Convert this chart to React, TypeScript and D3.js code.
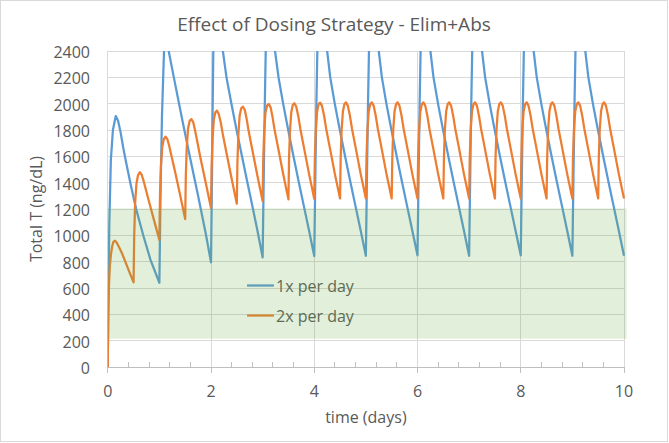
import * as d3 from 'd3';
import { useLayoutEffect, useRef } from 'react';

const title = 'Effect of Dosing Strategy - Elim+Abs';
const xLabel = 'time (days)';
const yLabel = 'Total T (ng/dL)';
const seriesNames = ['1x per day', '2x per day'];
const seriesColors = ['#5b9bd5', '#ed7d31'];

const xTicks = [0, 2, 4, 6, 8, 10];
const xMinorTicks = [0.4, 0.8, 1.2, 1.6, 2.4, 2.8, 3.2, 3.6, 4.4, 4.8, 5.2, 5.6, 6.4, 6.8, 7.2, 7.6, 8.4, 8.8, 9.2, 9.6];
const yTicks = [0, 200, 400, 600, 800, 1000, 1200, 1400, 1600, 1800, 2000, 2200, 2400];

// shaded target range (ng/dL) and its extent in days
const targetRange = [215, 1205];
const targetDays = [0, 10.05];

// [day, ng/dL]
const onceDaily: [number, number][] = [
  [0, 0], [0.01, 480], [0.03, 1080], [0.06, 1570], [0.1, 1800], [0.155, 1906], [0.2, 1870], [0.25, 1780],
  [0.3, 1665], [0.35, 1565], [0.45, 1375], [0.55, 1200], [0.69, 997], [0.83, 812], [1, 640],
  [1.02, 1250], [1.05, 1900], [1.09, 2400], [1.13, 2480], [1.15, 2475], [1.18, 2400], [1.3, 2160],
  [1.45, 1865], [1.6, 1580], [1.75, 1300], [1.9, 1010], [2, 795],
  [2.015, 1300], [2.03, 1900], [2.045, 2400], [2.08, 2640], [2.12, 2700], [2.17, 2620], [2.23, 2400],
  [2.3, 2200], [2.4, 1990], [2.5, 1790], [2.6, 1600], [2.7, 1410], [2.8, 1225], [2.9, 1035], [3, 833],
  [3.02, 1400], [3.04, 1950], [3.06, 2400], [3.1, 2660], [3.14, 2730], [3.19, 2640], [3.24, 2400],
  [3.31, 2195], [3.4, 1995], [3.5, 1790], [3.6, 1595], [3.7, 1405], [3.8, 1220], [3.9, 1035], [4, 843],
  [4.02, 1420], [4.04, 1970], [4.06, 2400], [4.1, 2680], [4.14, 2750], [4.19, 2660], [4.25, 2400],
  [4.31, 2200], [4.4, 1995], [4.5, 1790], [4.6, 1595], [4.7, 1405], [4.8, 1220], [4.9, 1035], [5, 845],
  [5.02, 1420], [5.04, 1970], [5.06, 2400], [5.1, 2680], [5.14, 2750], [5.19, 2660], [5.25, 2400],
  [5.31, 2200], [5.4, 1995], [5.5, 1790], [5.6, 1595], [5.7, 1405], [5.8, 1220], [5.9, 1035], [6, 848],
  [6.02, 1420], [6.04, 1970], [6.06, 2400], [6.1, 2680], [6.14, 2750], [6.19, 2660], [6.25, 2400],
  [6.31, 2200], [6.4, 1995], [6.5, 1790], [6.6, 1595], [6.7, 1405], [6.8, 1220], [6.9, 1035], [7, 845],
  [7.02, 1420], [7.04, 1970], [7.06, 2400], [7.1, 2680], [7.14, 2750], [7.19, 2660], [7.25, 2400],
  [7.31, 2200], [7.4, 1995], [7.5, 1790], [7.6, 1595], [7.7, 1405], [7.8, 1220], [7.9, 1035], [8, 848],
  [8.02, 1420], [8.04, 1970], [8.06, 2400], [8.1, 2680], [8.14, 2750], [8.19, 2660], [8.25, 2400],
  [8.31, 2200], [8.4, 1995], [8.5, 1790], [8.6, 1595], [8.7, 1405], [8.8, 1220], [8.9, 1035], [9, 845],
  [9.02, 1420], [9.04, 1970], [9.06, 2400], [9.1, 2680], [9.14, 2750], [9.19, 2660], [9.25, 2400],
  [9.31, 2200], [9.4, 1995], [9.5, 1790], [9.6, 1595], [9.7, 1405], [9.8, 1220], [9.9, 1035], [10, 845],
];

const twiceDaily: [number, number][] = [
  [0, 0], [0.005, 200], [0.012, 420], [0.025, 636], [0.04, 760], [0.06, 850], [0.085, 915], [0.11, 950],
  [0.135, 959], [0.17, 948], [0.22, 910], [0.28, 860], [0.34, 800], [0.42, 720], [0.5, 643],
  [0.512, 990], [0.53, 1240], [0.555, 1390], [0.585, 1455], [0.62, 1479], [0.655, 1462], [0.69, 1420],
  [0.73, 1360], [0.8, 1255], [0.9, 1110], [1, 965],
  [1.012, 1300], [1.03, 1530], [1.055, 1670], [1.085, 1730], [1.12, 1749], [1.155, 1730], [1.19, 1680],
  [1.23, 1610], [1.3, 1490], [1.4, 1310], [1.5, 1124],
  [1.512, 1450], [1.53, 1665], [1.555, 1810], [1.585, 1868], [1.62, 1883], [1.655, 1860], [1.69, 1800],
  [1.73, 1720], [1.8, 1580], [1.9, 1395], [2, 1207],
  [2.012, 1525], [2.03, 1735], [2.055, 1880], [2.085, 1935], [2.115, 1947], [2.15, 1922], [2.19, 1855],
  [2.23, 1765], [2.3, 1625], [2.4, 1430], [2.5, 1240],
  [2.512, 1555], [2.53, 1765], [2.555, 1910], [2.585, 1965], [2.62, 1977], [2.655, 1952], [2.69, 1885],
  [2.73, 1790], [2.8, 1650], [2.9, 1450], [3, 1260],
  [3.012, 1575], [3.03, 1785], [3.055, 1930], [3.085, 1985], [3.12, 1997], [3.155, 1972], [3.19, 1903],
  [3.23, 1805], [3.3, 1665], [3.4, 1462], [3.5, 1273],
  [3.512, 1585], [3.53, 1795], [3.555, 1935], [3.585, 1992], [3.615, 2003], [3.65, 1978], [3.69, 1907],
  [3.73, 1810], [3.8, 1668], [3.9, 1465], [4, 1278],
  [4.012, 1590], [4.03, 1800], [4.055, 1940], [4.085, 1998], [4.115, 2008], [4.15, 1983], [4.19, 1910],
  [4.23, 1812], [4.3, 1670], [4.4, 1465], [4.5, 1280],
  [4.512, 1590], [4.53, 1800], [4.555, 1940], [4.585, 1998], [4.615, 2010], [4.65, 1985], [4.69, 1910],
  [4.73, 1812], [4.8, 1670], [4.9, 1465], [5, 1280],
  [5.012, 1590], [5.03, 1800], [5.055, 1940], [5.085, 1998], [5.115, 2010], [5.15, 1985], [5.19, 1910],
  [5.23, 1812], [5.3, 1670], [5.4, 1465], [5.5, 1280],
  [5.512, 1590], [5.53, 1800], [5.555, 1940], [5.585, 1998], [5.615, 2010], [5.65, 1985], [5.69, 1910],
  [5.73, 1812], [5.8, 1670], [5.9, 1465], [6, 1280],
  [6.012, 1590], [6.03, 1800], [6.055, 1940], [6.085, 1998], [6.115, 2010], [6.15, 1985], [6.19, 1910],
  [6.23, 1812], [6.3, 1670], [6.4, 1465], [6.5, 1280],
  [6.512, 1590], [6.53, 1800], [6.555, 1940], [6.585, 1998], [6.615, 2010], [6.65, 1985], [6.69, 1910],
  [6.73, 1812], [6.8, 1670], [6.9, 1465], [7, 1280],
  [7.012, 1590], [7.03, 1800], [7.055, 1940], [7.085, 1998], [7.115, 2010], [7.15, 1985], [7.19, 1910],
  [7.23, 1812], [7.3, 1670], [7.4, 1465], [7.5, 1280],
  [7.512, 1590], [7.53, 1800], [7.555, 1940], [7.585, 1998], [7.615, 2010], [7.65, 1985], [7.69, 1910],
  [7.73, 1812], [7.8, 1670], [7.9, 1465], [8, 1280],
  [8.012, 1590], [8.03, 1800], [8.055, 1940], [8.085, 1998], [8.115, 2010], [8.15, 1985], [8.19, 1910],
  [8.23, 1812], [8.3, 1670], [8.4, 1465], [8.5, 1280],
  [8.512, 1590], [8.53, 1800], [8.555, 1940], [8.585, 1998], [8.615, 2010], [8.65, 1985], [8.69, 1910],
  [8.73, 1812], [8.8, 1670], [8.9, 1465], [9, 1280],
  [9.012, 1590], [9.03, 1800], [9.055, 1940], [9.085, 1998], [9.115, 2010], [9.15, 1985], [9.19, 1910],
  [9.23, 1812], [9.3, 1670], [9.4, 1465], [9.5, 1280],
  [9.512, 1590], [9.53, 1800], [9.555, 1940], [9.585, 1998], [9.615, 2010], [9.65, 1985], [9.69, 1910],
  [9.73, 1812], [9.8, 1670], [9.9, 1465], [10, 1280],
];

const W = 669;
const H = 443;
const FONT = '"Open Sans", "Noto Sans", sans-serif';
const TEXT = '#595959';

export default function App() {
  const ref = useRef<SVGSVGElement>(null);

  useLayoutEffect(() => {
    if (!ref.current) return;
    const svg = d3.select(ref.current);
    svg.selectAll('*').remove();

    const x = d3.scaleLinear().domain([0, 10]).range([107.75, 624]);
    const y = d3.scaleLinear().domain([0, 2400]).range([367, 51]);
    const snap = (v: number) => Math.floor(v) + 0.5;

    // chart area
    svg
      .append('rect')
      .attr('x', 0.5)
      .attr('y', 0.5)
      .attr('width', W - 2)
      .attr('height', H - 2)
      .attr('fill', '#fff')
      .attr('stroke', '#d9d9d9');

    svg
      .append('text')
      .text(title)
      .attr('x', 334)
      .attr('y', 30.5)
      .attr('text-anchor', 'middle')
      .attr('font-size', 19)
      .attr('font-family', FONT)
      .attr('fill', TEXT);

    // grid
    const grid = svg.append('g').attr('stroke', '#d9d9d9').attr('stroke-width', 1);
    grid
      .selectAll('line.h')
      .data(yTicks.filter((d) => d > 0))
      .join('line')
      .attr('x1', x(0))
      .attr('x2', x(10))
      .attr('y1', (d) => snap(y(d)))
      .attr('y2', (d) => snap(y(d)));
    grid
      .selectAll('line.v')
      .data(xTicks)
      .join('line')
      .attr('x1', (d) => snap(x(d)))
      .attr('x2', (d) => snap(x(d)))
      .attr('y1', y(2400))
      .attr('y2', y(0));

    // x axis line + ticks
    const axis = svg.append('g').attr('stroke', '#bfbfbf').attr('stroke-width', 1);
    axis
      .append('line')
      .attr('x1', x(0))
      .attr('x2', x(10) + 1)
      .attr('y1', snap(y(0)))
      .attr('y2', snap(y(0)));
    axis
      .selectAll('line.major')
      .data(xTicks)
      .join('line')
      .attr('x1', (d) => snap(x(d)))
      .attr('x2', (d) => snap(x(d)))
      .attr('y1', y(0))
      .attr('y2', y(0) + 6);
    axis
      .selectAll('line.minor')
      .data(xMinorTicks)
      .enter()
      .append('line')
      .attr('x1', (d) => snap(x(d)))
      .attr('x2', (d) => snap(x(d)))
      .attr('y1', y(0) - 5)
      .attr('y2', y(0));

    // tick labels
    svg
      .append('g')
      .selectAll('text')
      .data(yTicks)
      .join('text')
      .text((d) => d)
      .attr('x', 90)
      .attr('y', (d) => y(d) + 7)
      .attr('text-anchor', 'end')
      .attr('font-size', 16)
      .attr('font-family', FONT)
      .attr('fill', TEXT);
    svg
      .append('g')
      .selectAll('text')
      .data(xTicks)
      .join('text')
      .text((d) => d)
      .attr('x', (d) => x(d))
      .attr('y', 397)
      .attr('text-anchor', 'middle')
      .attr('font-size', 16)
      .attr('font-family', FONT)
      .attr('fill', TEXT);

    svg
      .append('text')
      .text(xLabel)
      .attr('x', (x(0) + x(10)) / 2)
      .attr('y', 423)
      .attr('text-anchor', 'middle')
      .attr('font-size', 16)
      .attr('font-family', FONT)
      .attr('fill', TEXT);
    svg
      .append('text')
      .text(yLabel)
      .attr('transform', `translate(42, ${(y(0) + y(2400)) / 2}) rotate(-90)`)
      .attr('text-anchor', 'middle')
      .attr('font-size', 16)
      .attr('font-family', FONT)
      .attr('fill', TEXT);

    // series
    svg
      .append('defs')
      .append('clipPath')
      .attr('id', 'plot-clip')
      .append('rect')
      .attr('x', x(0))
      .attr('y', y(2400))
      .attr('width', x(10) - x(0) + 1)
      .attr('height', y(0) - y(2400));

    const line = d3
      .line<[number, number]>()
      .x((d) => x(d[0]))
      .y((d) => y(d[1]));

    const lines = svg.append('g').attr('clip-path', 'url(#plot-clip)');
    [onceDaily, twiceDaily].forEach((series, i) => {
      lines
        .append('path')
        .attr('d', line(series))
        .attr('fill', 'none')
        .attr('stroke', seriesColors[i])
        .attr('stroke-width', 2.25)
        .attr('stroke-linejoin', 'round');
    });

    // legend
    const legend = svg.append('g');
    seriesNames.forEach((name, i) => {
      const ly = 285.5 + i * 30;
      legend
        .append('line')
        .attr('x1', 247)
        .attr('x2', 274)
        .attr('y1', ly)
        .attr('y2', ly)
        .attr('stroke', seriesColors[i])
        .attr('stroke-width', 2.25);
      legend
        .append('text')
        .text(name)
        .attr('x', 276)
        .attr('y', ly + 6)
        .attr('font-size', 16)
        .attr('font-family', FONT)
        .attr('fill', TEXT);
    });

    // target band laid over everything
    svg
      .append('rect')
      .attr('x', x(targetDays[0]))
      .attr('width', x(targetDays[1]) - x(targetDays[0]))
      .attr('y', y(targetRange[1]))
      .attr('height', y(targetRange[0]) - y(targetRange[1]))
      .attr('fill', '#70ad47')
      .attr('fill-opacity', 0.2);
  }, []);

  return (
    <svg
      ref={ref}
      width={W}
      height={H}
      style={{ position: 'absolute', left: 0, top: 0, display: 'block' }}
    />
  );
}
